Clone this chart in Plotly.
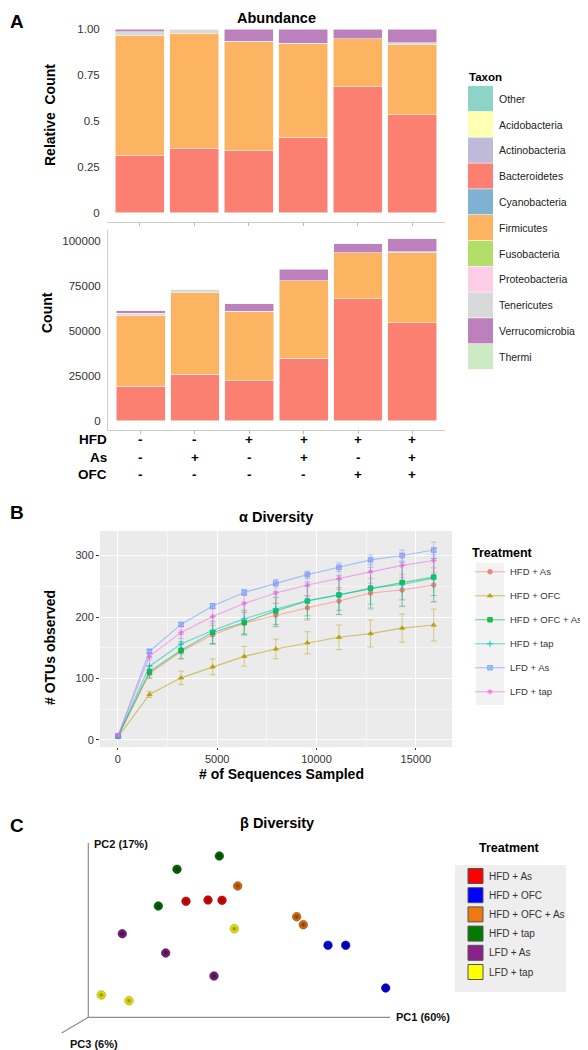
import plotly.graph_objects as go

# page body has an 8px margin, so the figure is offset by 8px on the page
OFF = 8
W, H = 588 - OFF, 1050 - OFF
FONT = "Liberation Sans, Arial, sans-serif"


def px(p):
    return (p - OFF) / W


def py(p):
    return 1 - (p - OFF) / H


# ---------------- Panel A data ----------------
groups = ["LFD + tap", "LFD + As", "HFD + tap", "HFD + As", "HFD + OFC", "HFD + OFC + As"]
row_labels = ["HFD", "As", "OFC"]
hfd_flags = ["-", "-", "+", "+", "+", "+"]
as_flags = ["-", "+", "-", "+", "-", "+"]
ofc_flags = ["-", "-", "-", "-", "+", "+"]

taxa = ["Other", "Acidobacteria", "Actinobacteria", "Bacteroidetes", "Cyanobacteria",
        "Firmicutes", "Fusobacteria", "Proteobacteria", "Tenericutes", "Verrucomicrobia", "Thermi"]
taxa_colors = ["#8DD3C7", "#FFFFB3", "#BEBADA", "#FB8072", "#80B1D3",
               "#FDB462", "#B3DE69", "#FCCDE5", "#D9D9D9", "#BC80BD", "#CCEBC5"]

rel_bacteroidetes = [0.310, 0.348, 0.338, 0.408, 0.686, 0.535]
rel_firmicutes = [0.654, 0.630, 0.597, 0.516, 0.263, 0.383]
rel_tenericutes = [0.021, 0.022, 0.0, 0.0, 0.0, 0.007]
rel_verrucomicrobia = [0.015, 0.0, 0.065, 0.076, 0.051, 0.075]
rel_ticks = [0, 0.25, 0.5, 0.75, 1.0]
rel_ticktext = ["0", "0.25", "0.5", "0.75", "1.00"]

cnt_bacteroidetes = [19200, 25900, 22400, 34800, 67800, 54500]
cnt_firmicutes = [39600, 45600, 38400, 43000, 25700, 39000]
cnt_tenericutes = [1100, 1500, 0, 0, 0, 600]
cnt_verrucomicrobia = [1300, 0, 4300, 6500, 5000, 7000]
cnt_ticks = [0, 25000, 50000, 75000, 100000]

# ---------------- Panel B data ----------------
treatments = ["HFD + As", "HFD + OFC", "HFD + OFC + As", "HFD + tap", "LFD + As", "LFD + tap"]
seq_depth = [10, 1590, 3180, 4770, 6360, 7950, 9540, 11130, 12720, 14310, 15900]
otu_hfd_as = [6, 108, 144, 171, 190, 203, 215, 226, 239, 244, 252]
otu_hfd_ofc = [5, 74, 101, 119, 136, 148, 158, 167, 173, 182, 187]
otu_hfd_ofc_as = [6, 111, 146, 175, 191, 210, 226, 236, 247, 256, 265]
otu_hfd_tap = [6, 120, 156, 178, 197, 213, 227, 236, 247, 253, 263]
otu_lfd_as = [7, 144, 188, 218, 240, 255, 269, 281, 293, 300, 309]
otu_lfd_tap = [7, 136, 175, 201, 222, 239, 252, 263, 274, 284, 292]
err_hfd_as = [1, 8, 12, 15, 17, 19, 20, 22, 24, 26, 28]
err_hfd_ofc = [1, 5, 11, 13, 16, 16, 18, 20, 22, 23, 26]
err_hfd_ofc_as = [1, 10, 14, 18, 20, 22, 24, 25, 26, 28, 30]
err_hfd_tap = [1, 14, 16, 22, 26, 28, 30, 32, 34, 36, 38]
err_lfd_as = [1, 4, 3, 4, 5, 6, 6, 7, 8, 9, 13]
err_lfd_tap = [1, 6, 10, 12, 14, 16, 18, 18, 19, 20, 20]
seq_ticks = [0, 5000, 10000, 15000]
otu_ticks = [0, 100, 200, 300]
alpha_colors = ["248,118,109", "183,159,0", "0,186,56", "0,191,196", "97,156,255", "245,100,227"]
alpha_symbols = ["circle", "triangle-up", "square", "cross-thin-open", "square-x-open", "asterisk-open"]

# ---------------- Panel C data (projected PCoA coordinates) ----------------
beta_colors = ["#FF0000", "#0000FF", "#F07810", "#007A00", "#8B2289", "#FFFF00"]
beta_edges = ["#7A0000", "#00007A", "#7A3800", "#003300", "#3D0A3C", "#8A8A00"]
pc_hfd_as_x = [97.7, 119.7, 133.7]
pc_hfd_as_y = [116.0, 117.3, 117.0]
pc_hfd_ofc_x = [239.7, 257.4, 297.4]
pc_hfd_ofc_y = [72.0, 72.0, 29.3]
pc_hfd_ofc_as_x = [149.4, 208.4, 215.0]
pc_hfd_ofc_as_y = [131.3, 100.6, 92.6]
pc_hfd_tap_x = [131.0, 88.7, 70.0]
pc_hfd_tap_y = [161.3, 148.0, 111.3]
pc_lfd_as_x = [34.0, 77.4, 125.7]
pc_lfd_as_y = [83.6, 64.3, 41.3]
pc_lfd_tap_x = [146.0, 13.0, 40.7]
pc_lfd_tap_y = [88.6, 22.3, 16.6]
pc_axis_labels = ["PC1 (60%)", "PC2 (17%)", "PC3 (6%)"]

fig = go.Figure()

# ---- Panel A bars ----
bar_taxa = ["Bacteroidetes", "Firmicutes", "Tenericutes", "Verrucomicrobia"]
rel_series = [rel_bacteroidetes, rel_firmicutes, rel_tenericutes, rel_verrucomicrobia]
cnt_series = [cnt_bacteroidetes, cnt_firmicutes, cnt_tenericutes, cnt_verrucomicrobia]
for name, rel, cnt in zip(bar_taxa, rel_series, cnt_series):
    col = taxa_colors[taxa.index(name)]
    fig.add_trace(go.Bar(x=groups, y=rel, name=name, marker=dict(color=col, line=dict(color="#F4F4F4", width=0.6)),
                         width=0.9, showlegend=False, xaxis="x", yaxis="y"))
    fig.add_trace(go.Bar(x=groups, y=cnt, name=name, marker=dict(color=col, line=dict(color="#F4F4F4", width=0.6)),
                         width=0.9, showlegend=False, xaxis="x2", yaxis="y2"))

# ---- Panel B rarefaction ----
otu_series = [otu_hfd_as, otu_hfd_ofc, otu_hfd_ofc_as, otu_hfd_tap, otu_lfd_as, otu_lfd_tap]
err_series = [err_hfd_as, err_hfd_ofc, err_hfd_ofc_as, err_hfd_tap, err_lfd_as, err_lfd_tap]
for i, (name, ys, es) in enumerate(zip(treatments, otu_series, err_series)):
    rgb = alpha_colors[i]
    fig.add_trace(go.Scatter(
        x=seq_depth, y=ys, name=name, mode="lines+markers", legendgroup=name,
        line=dict(color=f"rgba({rgb},0.55)", width=1.1),
        marker=dict(symbol=alpha_symbols[i], size=4.5, color=f"rgba({rgb},0.85)",
                    line=dict(color=f"rgba({rgb},0.85)", width=1)),
        error_y=dict(type="data", array=es, color=f"rgba({rgb},0.45)", thickness=1, width=3),
        xaxis="x3", yaxis="y3"))

# ---- Panel C PCoA ----
pc_x = [pc_hfd_as_x, pc_hfd_ofc_x, pc_hfd_ofc_as_x, pc_hfd_tap_x, pc_lfd_as_x, pc_lfd_tap_x]
pc_y = [pc_hfd_as_y, pc_hfd_ofc_y, pc_hfd_ofc_as_y, pc_hfd_tap_y, pc_lfd_as_y, pc_lfd_tap_y]
for i, name in enumerate(treatments):
    fig.add_trace(go.Scatter(
        x=pc_x[i], y=pc_y[i], name=name, mode="markers", showlegend=False,
        marker=dict(size=8.5, color=beta_colors[i], line=dict(color=beta_edges[i], width=0.6),
                    gradient=dict(type="radial", color=beta_edges[i])),
        xaxis="x4", yaxis="y4"))

shapes = []
annotations = []
tick_font = dict(family=FONT, size=11.5, color="#333333")

# Panel B background
shapes.append(dict(type="rect", xref="x3 domain", yref="y3 domain", x0=0, x1=1, y0=0, y1=1,
                   fillcolor="#EBEBEB", line=dict(width=0), layer="below"))
# Panel B legend key background column
shapes.append(dict(type="rect", xref="paper", yref="paper", x0=px(476), x1=px(504), y0=py(705), y1=py(563),
                   fillcolor="#F2F2F2", line=dict(width=0), layer="below"))

# Panel C axes lines
c_line = dict(color="#8C8C8C", width=1.2)
shapes += [
    dict(type="line", xref="x4", yref="y4", x0=0, y0=0, x1=301.7, y1=0, line=c_line),
    dict(type="line", xref="x4", yref="y4", x0=0, y0=0, x1=0, y1=174.3, line=c_line),
    dict(type="line", xref="x4", yref="y4", x0=0, y0=0, x1=-26.6, y1=-15.7, line=c_line),
]
annotations += [
    dict(xref="x4", yref="y4", x=305.5, y=0, text=f"<b>{pc_axis_labels[0]}</b>", showarrow=False,
         xanchor="left", yanchor="middle", font=dict(family=FONT, size=11, color="#111")),
    dict(xref="x4", yref="y4", x=4.0, y=173.5, text=f"<b>{pc_axis_labels[1]}</b>", showarrow=False,
         xanchor="left", yanchor="middle", font=dict(family=FONT, size=11, color="#111")),
    dict(xref="x4", yref="y4", x=-20.5, y=-27, text=f"<b>{pc_axis_labels[2]}</b>", showarrow=False,
         xanchor="left", yanchor="middle", font=dict(family=FONT, size=11, color="#111")),
]

# Panel letters and titles (kept inside the figure area)
for letter, ypx in [("A", 21), ("B", 512), ("C", 825)]:
    annotations.append(dict(xref="paper", yref="paper", x=0, y=py(ypx), text=f"<b>{letter}</b>",
                            showarrow=False, xanchor="left", yanchor="middle",
                            font=dict(family=FONT, size=19, color="#000")))
for title, xc, yc in [("Abundance", 276, 18), ("α Diversity", 276, 517), ("β Diversity", 277, 823)]:
    annotations.append(dict(xref="paper", yref="paper", x=px(xc), y=py(yc), text=f"<b>{title}</b>",
                            showarrow=False, xanchor="center", yanchor="middle",
                            font=dict(family=FONT, size=14.5, color="#000")))

# Axis titles
for text, xc, yc, ang in [("Relative  Count", 50, 115, -90), ("Count", 47, 313, -90),
                          ("# OTUs observed", 50, 648, -90), ("# of Sequences Sampled", 281, 774, 0)]:
    annotations.append(dict(xref="paper", yref="paper", x=px(xc), y=py(yc), text=f"<b>{text}</b>",
                            showarrow=False, xanchor="center", yanchor="middle", textangle=ang,
                            font=dict(family=FONT, size=14, color="#000")))

# Treatment table under bars
for rlabel, flags, ypx in zip(row_labels, [hfd_flags, as_flags, ofc_flags], [440, 457, 474]):
    annotations.append(dict(xref="paper", yref="paper", x=px(109), y=py(ypx), text=f"<b>{rlabel}</b>",
                            showarrow=False, xanchor="right", yanchor="middle",
                            font=dict(family=FONT, size=13.5, color="#000")))
    for g, f in zip(groups, flags):
        annotations.append(dict(xref="x2", yref="paper", x=g, y=py(ypx), text=f"<b>{f}</b>",
                                showarrow=False, xanchor="center", yanchor="middle",
                                font=dict(family=FONT, size=13.5, color="#000")))

# Taxon legend (manual)
annotations.append(dict(xref="paper", yref="paper", x=px(467), y=py(77), text="<b>Taxon</b>",
                        showarrow=False, xanchor="left", yanchor="middle",
                        font=dict(family=FONT, size=11.5, color="#000")))
sw_h = 25.8
for i, (t, c) in enumerate(zip(taxa, taxa_colors)):
    top = 86 + i * sw_h
    shapes.append(dict(type="rect", xref="paper", yref="paper", x0=px(468), x1=px(493),
                       y0=py(top + sw_h - 0.6), y1=py(top), fillcolor=c, line=dict(width=0)))
    annotations.append(dict(xref="paper", yref="paper", x=px(497), y=py(top + sw_h / 2), text=t,
                            showarrow=False, xanchor="left", yanchor="middle",
                            font=dict(family=FONT, size=10.5, color="#222")))

# Beta diversity legend (manual)
annotations.append(dict(xref="paper", yref="paper", x=px(509), y=py(848), text="<b>Treatment</b>",
                        showarrow=False, xanchor="center", yanchor="middle",
                        font=dict(family=FONT, size=12.5, color="#000")))
shapes.append(dict(type="rect", xref="paper", yref="paper", x0=px(455), x1=px(566), y0=py(992), y1=py(865),
                   fillcolor="#EEEEEE", line=dict(width=0), layer="below"))
for i, (t, c) in enumerate(zip(treatments, beta_colors)):
    yc = 876 + i * 19.2
    shapes.append(dict(type="rect", xref="paper", yref="paper", x0=px(468), x1=px(483),
                       y0=py(yc + 7.5), y1=py(yc - 7.5), fillcolor=c, line=dict(color="#555", width=1)))
    annotations.append(dict(xref="paper", yref="paper", x=px(487), y=py(yc), text=t,
                            showarrow=False, xanchor="left", yanchor="middle",
                            font=dict(family=FONT, size=10, color="#333")))

cat_axis = dict(type="category", range=[-0.6, 5.6], showticklabels=False, ticks="outside", ticklen=3,
                tickcolor="#BBBBBB", showline=True, linecolor="#CCCCCC", linewidth=1, showgrid=False,
                zeroline=False, fixedrange=True)

fig.update_layout(
    width=W, height=H, margin=dict(l=0, r=0, t=0, b=0),
    paper_bgcolor="white", plot_bgcolor="white", barmode="stack", bargap=0.1,
    font=dict(family=FONT, color="#333"),
    xaxis=dict(domain=[px(107), px(445)], anchor="y", **cat_axis),
    yaxis=dict(domain=[py(222), py(20)], anchor="x", range=[-0.05, 1.05],
               tickvals=rel_ticks, ticktext=rel_ticktext,
               ticks="outside", ticklen=4, tickcolor="rgba(0,0,0,0)", showline=False, showgrid=False,
               zeroline=False, tickfont=tick_font),
    xaxis2=dict(domain=[px(108), px(445)], anchor="y2", **cat_axis),
    yaxis2=dict(domain=[py(430), py(230)], anchor="x2", range=[-5050, 106050],
                tickvals=cnt_ticks, ticktext=[str(v) for v in cnt_ticks], ticks="outside", ticklen=4,
                tickcolor="rgba(0,0,0,0)", showline=True, linecolor="#CCCCCC", showgrid=False,
                zeroline=False, tickfont=tick_font),
    xaxis3=dict(domain=[px(100), px(452)], anchor="y3", range=[-900, 16820],
                tickvals=seq_ticks, ticktext=[str(v) for v in seq_ticks], ticks="outside", ticklen=2,
                tickcolor="#333",
                showgrid=True, gridcolor="white", gridwidth=1.2, zeroline=False, showline=False,
                minor=dict(tickvals=[2500, 7500, 12500], showgrid=True, gridcolor="#F5F5F5", gridwidth=0.6,
                           ticks=""),
                tickfont=dict(family=FONT, size=11, color="#333")),
    yaxis3=dict(domain=[py(747), py(531)], anchor="x3", range=[-11.5, 340],
                tickvals=otu_ticks, ticktext=[str(v) for v in otu_ticks], ticks="outside", ticklen=3,
                tickcolor="#333",
                showgrid=True, gridcolor="white", gridwidth=1.2, zeroline=False, showline=False,
                minor=dict(tickvals=[50, 150, 250], showgrid=True, gridcolor="#F5F5F5", gridwidth=0.6,
                           ticks=""),
                tickfont=dict(family=FONT, size=11, color="#333")),
    xaxis4=dict(domain=[px(40), px(440)], anchor="y4", range=[-48.3, 351.7], visible=False),
    yaxis4=dict(domain=[py(1048), py(830)], anchor="x4", range=[-30.7, 187.3], visible=False),
    legend=dict(x=px(470), y=py(541), xanchor="left", yanchor="top", bgcolor="rgba(255,255,255,0)",
                title=dict(text="<b>Treatment</b>", font=dict(family=FONT, size=12.5, color="#000")),
                font=dict(family=FONT, size=9.5, color="#333"), tracegroupgap=5, itemwidth=30),
    shapes=shapes, annotations=annotations,
)

fig.write_html("out.html")
